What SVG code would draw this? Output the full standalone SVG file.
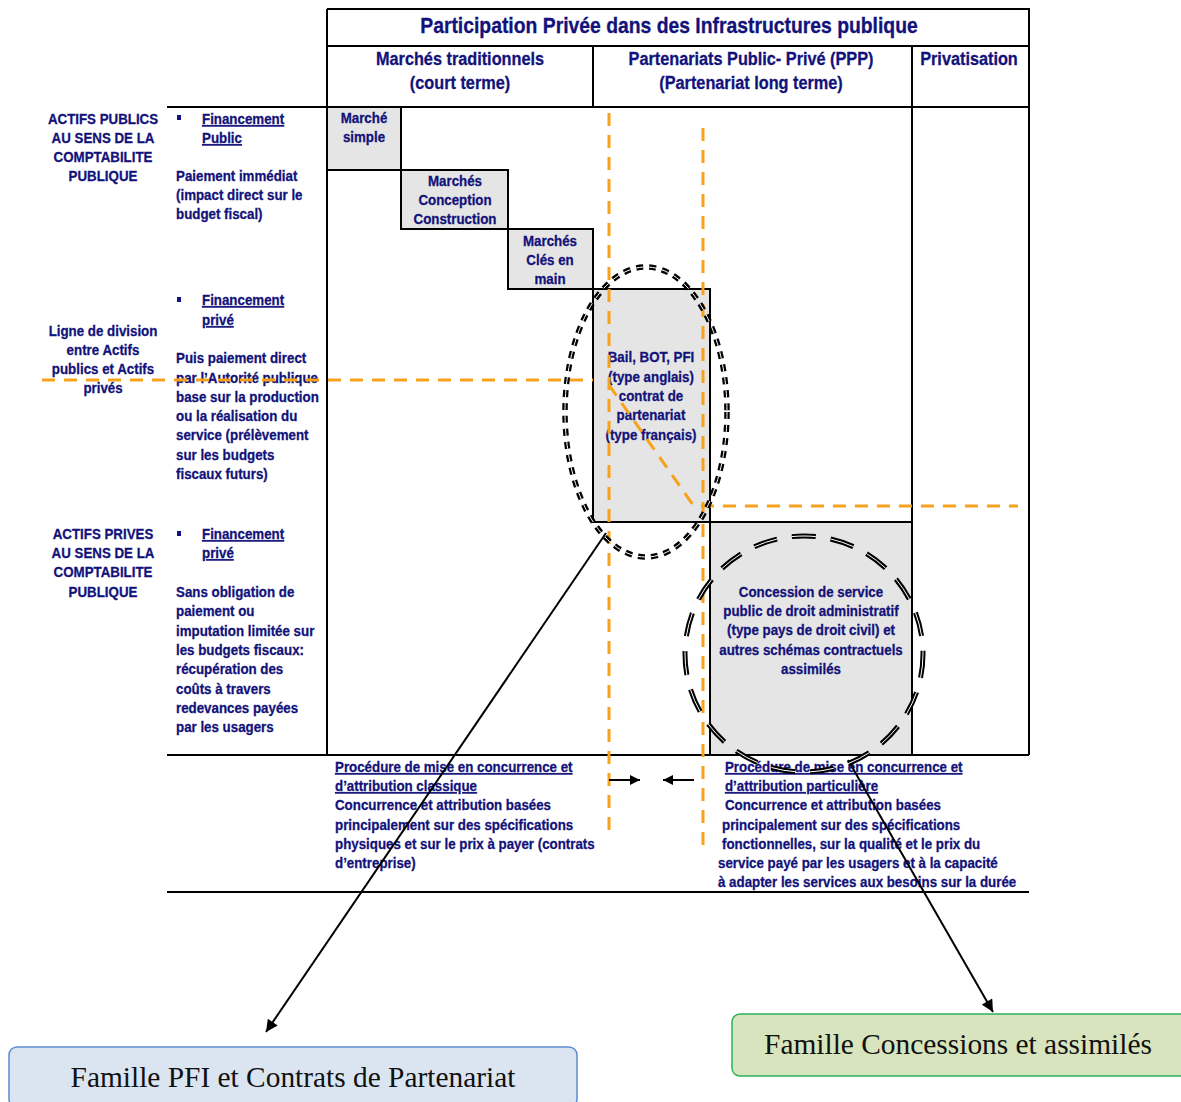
<svg xmlns="http://www.w3.org/2000/svg" width="1181" height="1102" viewBox="0 0 1181 1102">
<defs>
<marker id="ah" viewBox="0 0 10 10" refX="10" refY="5" markerWidth="7" markerHeight="6" markerUnits="strokeWidth" orient="auto"><path d="M0,0 L10,5 L0,10 z" fill="#000"/></marker>
<marker id="ahs" viewBox="0 0 10 10" refX="10" refY="5" markerWidth="6" markerHeight="5" markerUnits="strokeWidth" orient="auto"><path d="M0,0 L10,5 L0,10 z" fill="#000"/></marker>
</defs>
<style>
.t{font-family:"Liberation Sans",Arial,sans-serif;font-weight:bold;fill:#12127a;stroke:#12127a;stroke-width:0.3;font-size:15.5px}
.c{text-anchor:middle}
.u{text-decoration:underline}
.h1{font-size:21.5px}
.h2{font-size:18.5px}
.ln{stroke:#000;stroke-width:2;fill:none}
.box{fill:#e5e5e5;stroke:#000;stroke-width:2}
.or{stroke:#f7a21b;stroke-width:3;fill:none;stroke-dasharray:13 9}
.fam{font-family:"Liberation Serif","Times New Roman",serif;font-size:29.4px;fill:#111;text-anchor:middle}
</style>
<rect width="1181" height="1102" fill="#fff"/>

<g id="table">
<path class="ln" d="M327,9 H1029 V755 M327,9 V755 M327,46 H1029 M167,107 H1029 M593,46 V107 M912,46 V755 M167,755 H1029 M167,892 H1029 M593,522 H912"/>
</g>

<g id="header">
<text class="t c h1" transform="translate(669 0) scale(0.9 1)" x="0" y="33">Participation Privée dans des Infrastructures publique</text>
<text class="t c h2" transform="translate(460 0) scale(0.88 1)"><tspan x="0" y="65">Marchés traditionnels</tspan><tspan x="0" y="89">(court terme)</tspan></text>
<text class="t c h2" transform="translate(751 0) scale(0.88 1)"><tspan x="0" y="65">Partenariats Public- Privé (PPP)</tspan><tspan x="0" y="89">(Partenariat long terme)</tspan></text>
<text class="t c h2" transform="translate(969 0) scale(0.88 1)" x="0" y="65">Privatisation</text>
</g>

<g id="row-labels">
<text class="t c" transform="translate(103 0) scale(0.86 1)"><tspan x="0" y="124">ACTIFS PUBLICS</tspan><tspan x="0" y="143">AU SENS DE LA</tspan><tspan x="0" y="162">COMPTABILITE</tspan><tspan x="0" y="181">PUBLIQUE</tspan></text>
<text class="t c" transform="translate(103 0) scale(0.86 1)"><tspan x="0" y="336">Ligne de division</tspan><tspan x="0" y="355">entre Actifs</tspan><tspan x="0" y="374">publics et Actifs</tspan><tspan x="0" y="393">privés</tspan></text>
<text class="t c" transform="translate(103 0) scale(0.86 1)"><tspan x="0" y="539">ACTIFS PRIVES</tspan><tspan x="0" y="558">AU SENS DE LA</tspan><tspan x="0" y="577">COMPTABILITE</tspan><tspan x="0" y="597">PUBLIQUE</tspan></text>
</g>

<g id="financing-public">
<rect x="177" y="115" width="4" height="5" fill="#12127a"/>
<text class="t u" transform="translate(202 0) scale(0.86 1)"><tspan x="0" y="124">Financement</tspan><tspan x="0" y="143">Public</tspan></text>
<text class="t" transform="translate(176 0) scale(0.86 1)"><tspan x="0" y="181">Paiement immédiat</tspan><tspan x="0" y="200">(impact direct sur le</tspan><tspan x="0" y="219">budget fiscal)</tspan></text>
</g>

<g id="financing-private-1">
<rect x="177" y="297" width="4" height="5" fill="#12127a"/>
<text class="t u" transform="translate(202 0) scale(0.86 1)"><tspan x="0" y="305">Financement</tspan><tspan x="0" y="325">privé</tspan></text>
<text class="t" transform="translate(176 0) scale(0.86 1)"><tspan x="0" y="363">Puis paiement direct</tspan><tspan x="0" y="383">par l’Autorité publique</tspan><tspan x="0" y="402">base sur la production</tspan><tspan x="0" y="421">ou la réalisation du</tspan><tspan x="0" y="440">service (prélèvement</tspan><tspan x="0" y="460">sur les budgets</tspan><tspan x="0" y="479">fiscaux futurs)</tspan></text>
</g>

<g id="financing-private-2">
<rect x="177" y="531" width="4" height="5" fill="#12127a"/>
<text class="t u" transform="translate(202 0) scale(0.86 1)"><tspan x="0" y="539">Financement</tspan><tspan x="0" y="558">privé</tspan></text>
<text class="t" transform="translate(176 0) scale(0.86 1)"><tspan x="0" y="597">Sans obligation de</tspan><tspan x="0" y="616">paiement ou</tspan><tspan x="0" y="636">imputation limitée sur</tspan><tspan x="0" y="655">les budgets fiscaux:</tspan><tspan x="0" y="674">récupération des</tspan><tspan x="0" y="694">coûts à travers</tspan><tspan x="0" y="713">redevances payées</tspan><tspan x="0" y="732">par les usagers</tspan></text>
</g>

<g id="marche-simple">
<rect class="box" x="327" y="107" width="74" height="63"/>
<text class="t c" transform="translate(364 0) scale(0.86 1)"><tspan x="0" y="123">Marché</tspan><tspan x="0" y="142">simple</tspan></text>
</g>
<g id="marches-conception">
<rect class="box" x="401" y="170" width="107" height="59"/>
<text class="t c" transform="translate(455 0) scale(0.86 1)"><tspan x="0" y="186">Marchés</tspan><tspan x="0" y="205">Conception</tspan><tspan x="0" y="224">Construction</tspan></text>
</g>
<g id="marches-cles">
<rect class="box" x="508" y="229" width="85" height="60"/>
<text class="t c" transform="translate(550 0) scale(0.86 1)"><tspan x="0" y="246">Marchés</tspan><tspan x="0" y="265">Clés en</tspan><tspan x="0" y="284">main</tspan></text>
</g>
<g id="bail-bot-pfi">
<rect class="box" x="593" y="289" width="117" height="233"/>
<text class="t c" transform="translate(651 0) scale(0.86 1)"><tspan x="0" y="362">Bail, BOT, PFI</tspan><tspan x="0" y="382">(type anglais)</tspan><tspan x="0" y="401">contrat de</tspan><tspan x="0" y="420">partenariat</tspan><tspan x="0" y="440">(type français)</tspan></text>
</g>
<g id="concession">
<rect class="box" x="710" y="522" width="202" height="233"/>
<text class="t c" transform="translate(811 0) scale(0.86 1)"><tspan x="0" y="597">Concession de service</tspan><tspan x="0" y="616">public de droit administratif</tspan><tspan x="0" y="635">(type pays de droit civil) et</tspan><tspan x="0" y="655">autres schémas contractuels</tspan><tspan x="0" y="674">assimilés</tspan></text>
</g>

<g id="procedure-classique">
<text class="t" transform="translate(335 0) scale(0.86 1)"><tspan class="u" x="0" y="772">Procédure de mise en concurrence et</tspan><tspan class="u" x="0" y="791">d’attribution classique</tspan><tspan x="0" y="810">Concurrence et attribution basées</tspan><tspan x="0" y="830">principalement sur des spécifications</tspan><tspan x="0" y="849">physiques et sur le prix à payer (contrats</tspan><tspan x="0" y="868">d’entreprise)</tspan></text>
</g>
<g id="procedure-particuliere">
<text class="t" transform="translate(718 0) scale(0.86 1)"><tspan class="u" x="8.1" y="772">Procédure de mise en concurrence et</tspan><tspan class="u" x="8.1" y="791">d’attribution particulière</tspan><tspan x="8.1" y="810">Concurrence et attribution basées</tspan><tspan x="4.7" y="830">principalement sur des spécifications</tspan><tspan x="4.7" y="849">fonctionnelles, sur la qualité et le prix du</tspan><tspan x="0" y="868">service payé par les usagers et à la capacité</tspan><tspan x="0" y="887">à adapter les services aux besoins sur la durée</tspan></text>
</g>

<g id="connectors">
<path class="or" d="M609,113 V830"/>
<path class="or" d="M703,128 V850"/>
<path class="or" d="M42,380 H593"/>
<path class="or" d="M609,385 L691,502 Q694,506 699,506 H1018"/>
<path stroke="#000" stroke-width="2" fill="none" d="M609,780 H640" marker-end="url(#ahs)"/>
<path stroke="#000" stroke-width="2" fill="none" d="M694,780 H663" marker-end="url(#ahs)"/>
<path stroke="#000" stroke-width="2" fill="none" d="M606,533 L266,1032" marker-end="url(#ah)"/>
<path stroke="#000" stroke-width="2" fill="none" d="M848,760 L993,1012" marker-end="url(#ah)"/>
</g>

<g id="oval-pfi">
<ellipse cx="646" cy="412" rx="81" ry="145" fill="none" stroke="#000" stroke-width="5.5" stroke-dasharray="7 6"/>
<ellipse cx="646" cy="412" rx="81" ry="145" fill="none" stroke="#fff" stroke-width="1" stroke-dasharray="7 6"/>
</g>
<g id="oval-concession">
<ellipse cx="804" cy="654" rx="119" ry="118" fill="none" stroke="#000" stroke-width="5" stroke-dasharray="24 15"/>
<ellipse cx="804" cy="654" rx="119" ry="118" fill="none" stroke="#fff" stroke-width="1" stroke-dasharray="24 15"/>
</g>

<g id="famille-pfi">
<rect x="9" y="1047" width="568" height="60" rx="8" fill="#dbe5f1" stroke="#5b8bd0" stroke-width="1.5"/>
<text class="fam" x="293" y="1087">Famille PFI et Contrats de Partenariat</text>
</g>
<g id="famille-concessions">
<rect x="732" y="1014" width="460" height="62" rx="8" fill="#d7e4bd" stroke="#2db35a" stroke-width="1.5"/>
<text class="fam" x="958" y="1054">Famille Concessions et assimilés</text>
</g>
</svg>
